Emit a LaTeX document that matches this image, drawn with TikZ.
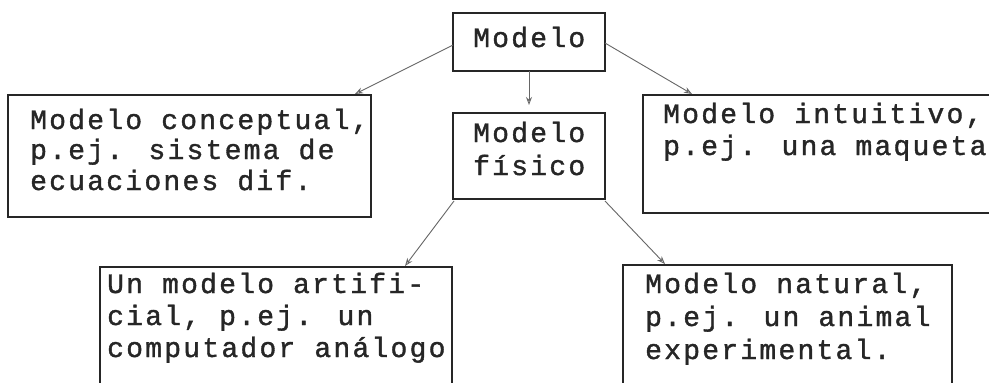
\documentclass[tikz,border=0pt]{standalone}
\usepackage{fontspec}
\newfontfamily\tw[FakeBold=1.3,LetterSpace=8]{Liberation Mono}
\usetikzlibrary{arrows.meta,calc}
\tikzset{
  box/.style={draw=black!85, line width=1.8pt, inner sep=0pt, outer sep=0pt},
  txt/.style={anchor=base west, inner sep=0pt, font=\tw\fontsize{28}{30}\selectfont, text=black!85},
  conn/.style={draw=black!60, line width=0.9pt, -{Stealth[length=8pt,width=6pt,open]}},
}
\begin{document}
\begin{tikzpicture}[x=1pt,y=-1pt]
\clip (0,0) rectangle (989,383);
\fill[white] (0,0) rectangle (989,383);
% boxes
\node[box, minimum width=152pt, minimum height=58pt] (m) at (529,42) {};
\node[box, minimum width=152pt, minimum height=86pt] (fis) at (529,156) {};
\node[box, minimum width=363pt, minimum height=122pt] (con) at (189.5,156) {};
\node[box, minimum width=350pt, minimum height=118pt] (int) at (818,154) {};
\node[box, minimum width=352pt, minimum height=140pt] (art) at (276,337) {};
\node[box, minimum width=329pt, minimum height=140pt] (nat) at (787.5,335) {};
% texts
\node[txt] (mt) at (473,47) {Modelo};
\node[txt] (ft1) at (473,142) {Modelo};
\node[txt] (ft2) at (473,175) {físico};
\node[txt] (ct1) at (30,129) {Modelo conceptual,};
\node[txt] (ct2) at (30,159) {p.ej. sistema de};
\node[txt] (ct3) at (30,190) {ecuaciones dif.};
\node[txt] (it1) at (663,123) {Modelo intuitivo,};
\node[txt] (it2) at (663,155) {p.ej. una maqueta};
\node[txt] (at1) at (107,293) {Un modelo artifi-};
\node[txt] (at2) at (107,325) {cial, p.ej. un};
\node[txt] (at3) at (107,357) {computador análogo};
\node[txt] (nt1) at (645,293) {Modelo natural,};
\node[txt] (nt2) at (645,326) {p.ej. un animal};
\node[txt] (nt3) at (645,359) {experimental.};
% connectors
\draw[conn] ($(m.west)+(0,3)$) -- ($(con.north east)+(-16,-1)$);
\draw[conn, shorten >=8pt] (m.south) -- (fis.north);
\draw[conn] ($(m.east)+(0,1)$) -- ($(int.north west)+(49,-1)$);
\draw[conn] ($(fis.south west)+(1,2)$) -- ($(art.north east)+(-47,-1)$);
\draw[conn] ($(fis.south east)+(0,2)$) -- ($(nat.north west)+(42,-1)$);
\end{tikzpicture}
\end{document}
